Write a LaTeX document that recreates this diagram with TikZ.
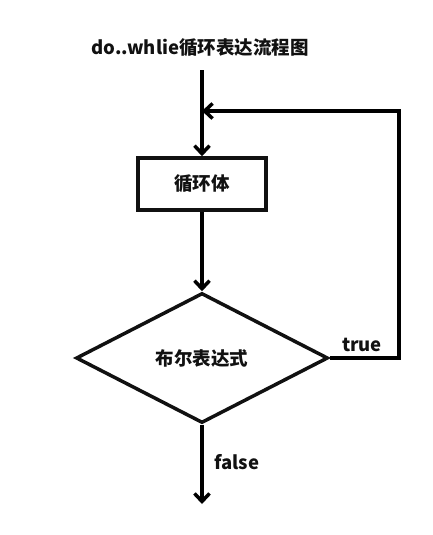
\documentclass[tikz,border=0pt]{standalone}
\usepackage{fontspec}
\setmainfont{Noto Sans CJK SC}
\usetikzlibrary{shapes.geometric,arrows.meta}
\definecolor{inkblack}{HTML}{000000}
\definecolor{txtblack}{HTML}{111111}

\tikzset{
  flowline/.style={inkblack, line width=3.5pt},
  flowarrow/.style={flowline, -{Straight Barb[length=8pt,width=15pt,line width=3.5pt]}},
  boxnode/.style={draw=inkblack, line width=3.5pt, minimum width=128pt, minimum height=52pt},
  decnode/.style={diamond, draw=inkblack, line width=3.5pt, aspect=1.94, minimum width=252pt, minimum height=130pt, inner sep=0pt},
  lbl/.style={txtblack, font=\fontsize{18.5}{20}\selectfont\bfseries}
}

\begin{document}
\begin{tikzpicture}[x=1pt,y=-1pt]
\useasboundingbox (0,0) rectangle (432,535);

% Title
\node[lbl] (title) at (200,48) {do..whlie循环表达流程图};

% Loop body and condition
\node[boxnode, lbl] (body) at (202,184) {循环体};
\node[decnode, lbl] (cond) at (202,358) {布尔表达式};

% Helper points
\coordinate (start) at (202,70);
\coordinate (join) at (202,111);
\coordinate (rdown) at (399,358);
\coordinate (rup) at (399,111);
\coordinate (stop) at (202,504);

% Connectors
\draw[flowarrow] (start) -- (body.north);
\draw[flowarrow] (body.south) -- (cond.north);
\draw[flowarrow] (cond.east) -- (rdown) -- (rup) -- (join);
\draw[flowarrow] (cond.south) -- (stop);

% Branch labels
\node[lbl] (truelbl) at (362,345) {true};
\node[lbl] (falselbl) at (237,462) {false};

\end{tikzpicture}
\end{document}
